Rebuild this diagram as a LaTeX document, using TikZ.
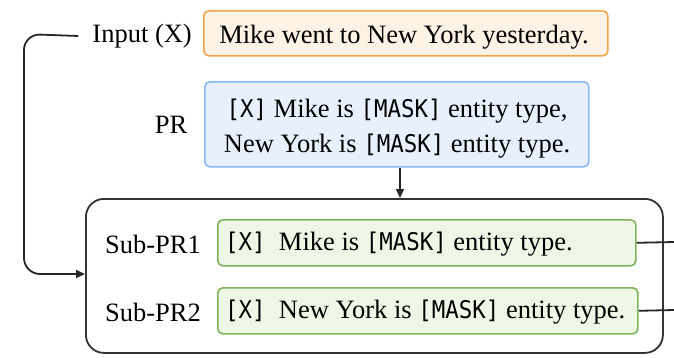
\documentclass[tikz,border=0pt]{standalone}
\usepackage{fontspec}
\setmainfont{Liberation Serif}
\newfontfamily\tokfont[Scale=0.92,FakeStretch=0.92]{DejaVu Sans Mono}
\usetikzlibrary{arrows.meta}
\definecolor{inFill}{HTML}{FDF3E4}
\definecolor{inLine}{HTML}{EFA54A}
\definecolor{prFill}{HTML}{E8F0FD}
\definecolor{prLine}{HTML}{8AB8F5}
\definecolor{subFill}{HTML}{EEF6E6}
\definecolor{subLine}{HTML}{7DB35A}
\newcommand{\tok}[1]{{\tokfont #1}}
\begin{document}
\begin{tikzpicture}[x=1pt,y=-1pt,
  every node/.style={font=\fontsize{26.5}{35}\selectfont, inner sep=0pt},
  textbox/.style={draw, line width=1.6pt, rounded corners=5pt, anchor=north west},
  inbox/.style={textbox, draw=inLine, fill=inFill},
  prbox/.style={textbox, draw=prLine, fill=prFill, align=center},
  subbox/.style={textbox, draw=subLine, fill=subFill},
  label/.style={text=black},
  conn/.style={line width=1.8pt, draw=black!85},
  tip/.style={-{Triangle[length=9pt,width=8pt]}}]
\useasboundingbox (0,0) rectangle (674,357);

% outer group holding the sub-prompts
\node[draw=black!80, line width=1.8pt, rounded corners=18pt, anchor=north west,
      minimum width=577pt, minimum height=154pt] (group) at (85,198) {};

% input sentence
\node[inbox, minimum width=404pt, minimum height=45pt] (input) at (203,10) {};
\node at (404,37) {Mike went to New York yesterday.};
\node[label, anchor=east] (inlab) at (192,36) {Input (X)};

% prompt
\node[prbox, minimum width=384pt, minimum height=85pt] (pr) at (204,81) {};
\node[align=center] (prtext) at (397,129) {\tok{[X]} Mike is \tok{[MASK]} entity type,\\New York is \tok{[MASK]} entity type.};
\node[label] (prlab) at (171,125) {PR};

% sub-prompts
\node[subbox, minimum width=418pt, minimum height=46pt] (sub1) at (217,219) {};
\node[anchor=west] at (225,244) {\tok{[X]}\ \ Mike is \tok{[MASK]} entity type.};
\node[label] (sub1lab) at (153,244) {Sub-PR1};

\node[subbox, minimum width=420pt, minimum height=46pt] (sub2) at (217,287) {};
\node[anchor=west] at (225,312) {\tok{[X]}\ \ New York is \tok{[MASK]} entity type.};
\node[label] (sub2lab) at (153,312) {Sub-PR2};

% connectors
\coordinate (out1) at (674,242);
\coordinate (out2) at (674,310);
\coordinate (entry) at (85,274);
\draw[conn, tip] (pr.south -| 400,0) -- (group.north -| 400,0);
\draw[conn, tip, rounded corners=16pt] ([xshift=-14pt]inlab.west) -- (24,34) -- (24,274) -- (entry);
\draw[conn] (sub1.east) -- (out1);
\draw[conn] (sub2.east) -- (out2);
\end{tikzpicture}
\end{document}
